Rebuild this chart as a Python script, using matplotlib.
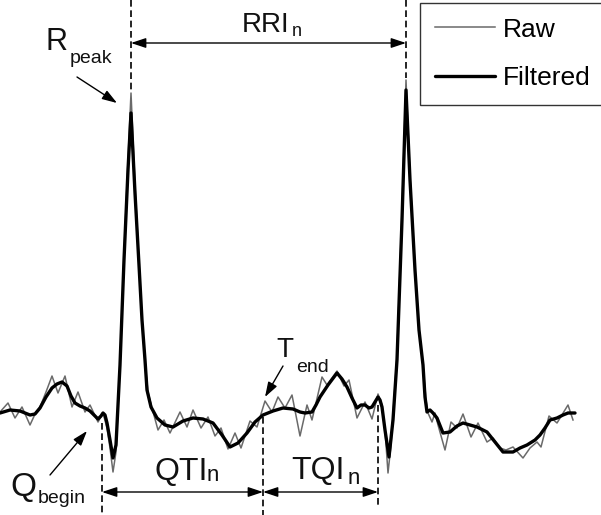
import numpy as np
import matplotlib
matplotlib.use("Agg")
import matplotlib.pyplot as plt

plt.rcParams["font.family"] = ["Liberation Sans", "DejaVu Sans"]

# ── ECG traces (sample position, level; level grows downward) ──
filt_t = [0, 10, 20, 30, 35, 40, 46, 52, 57, 62, 67, 71, 75, 80, 85, 90, 95, 98,
          101, 103, 105, 107, 110, 113, 116, 120, 124, 128, 131, 135, 139, 142,
          145, 147, 151, 157, 165, 173, 183, 193, 203, 213, 222, 230, 238, 247,
          255, 263, 273, 283, 293, 300, 305, 312, 316, 320, 328, 337, 342, 347,
          352, 357, 361, 365, 369, 372, 375, 378, 380, 382, 385, 389, 393, 397,
          402, 406, 410, 415, 419, 423, 425, 427, 430, 433, 437, 443, 450, 457,
          463, 470, 477, 487, 495, 503, 513, 520, 527, 535, 540, 545, 550, 557,
          563, 568, 575]
filt_v = [413, 410, 411, 415, 414, 408, 397, 388, 384, 382, 386, 396, 403, 406,
          408, 411, 416, 419, 416, 413, 415, 423, 440, 458, 445, 365, 260, 170,
          113, 193, 265, 320, 360, 390, 407, 418, 425, 427, 421, 418, 419, 423,
          435, 447, 443, 433, 422, 415, 411, 408, 409, 412, 413, 412, 405, 397,
          385, 373, 379, 387, 398, 408, 405, 405, 408, 407, 402, 397, 400, 407,
          430, 457, 420, 360, 220, 90, 180, 270, 330, 365, 397, 412, 410, 413,
          418, 433, 432, 426, 423, 425, 427, 432, 442, 452, 452, 448, 445, 440,
          435, 428, 420, 418, 415, 413, 413]

raw_t = [0, 8, 15, 22, 30, 36, 40, 46, 52, 58, 65, 72, 78, 85, 90, 98, 103, 107,
         110, 113, 116, 120, 124, 128, 131, 135, 139, 142, 145, 148, 152, 158,
         164, 170, 180, 187, 193, 201, 208, 215, 221, 228, 235, 241, 250, 257,
         265, 272, 278, 285, 292, 300, 307, 312, 322, 327, 337, 344, 349, 357,
         365, 372, 378, 382, 385, 388, 391, 397, 402, 406, 410, 415, 419, 423,
         426, 428, 432, 435, 438, 445, 451, 457, 463, 471, 478, 487, 493, 500,
         506, 513, 523, 530, 537, 541, 549, 557, 568, 573]
raw_v = [412, 403, 418, 407, 425, 412, 407, 392, 376, 393, 376, 407, 392, 412,
         405, 422, 413, 428, 448, 472, 452, 365, 255, 160, 93, 185, 262, 320,
         362, 392, 408, 430, 420, 433, 412, 427, 410, 428, 417, 436, 428, 449,
         433, 448, 421, 427, 401, 412, 397, 408, 395, 436, 405, 420, 377, 385,
         371, 386, 380, 418, 402, 419, 394, 405, 430, 473, 445, 355, 210, 80,
         175, 268, 330, 365, 400, 413, 422, 413, 425, 450, 422, 428, 414, 437,
         423, 442, 438, 448, 450, 447, 458, 448, 442, 447, 416, 423, 405, 420]

# ── fiducial points ──
r_peaks = [131, 406]
q_begin = 102
t_end = 263
q_next = 378

fig = plt.figure(figsize=(6.01, 5.15), dpi=100, facecolor="white")
ax = fig.add_axes([0, 0, 1, 1])
ax.set_xlim(0, 601)
ax.set_ylim(515, 0)
ax.axis("off")

ax.plot(raw_t, raw_v, color="#6a6a6a", lw=1.1, solid_joinstyle="round",
        label="Raw", zorder=2)
ax.plot(filt_t, filt_v, color="black", lw=2.4, solid_joinstyle="round",
        solid_capstyle="round", label="Filtered", zorder=3)

dash = dict(color="black", lw=1.2, linestyle=(0, (4, 2.2)), zorder=1)
ax.plot([r_peaks[0], r_peaks[0]], [0, 90], **dash)
ax.plot([r_peaks[1], r_peaks[1]], [0, 78], **dash)
ax.plot([q_begin, q_begin], [423, 515], **dash)
ax.plot([t_end, t_end], [417, 515], **dash)
ax.plot([q_next, q_next], [405, 507], **dash)

double = dict(arrowstyle="<|-|>,head_length=0.9,head_width=0.3", color="black",
              lw=1.0, shrinkA=0, shrinkB=0)
single = dict(arrowstyle="-|>,head_length=0.9,head_width=0.3", color="black",
              lw=1.0, shrinkA=0, shrinkB=0)

ax.annotate("", xy=(r_peaks[1], 43), xytext=(r_peaks[0], 43), arrowprops=double)
ax.annotate("", xy=(t_end, 492), xytext=(q_begin, 492), arrowprops=double)
ax.annotate("", xy=(q_next, 492), xytext=(t_end, 492), arrowprops=double)

ax.annotate("", xy=(117, 103), xytext=(77, 77), arrowprops=single)
ax.annotate("", xy=(87, 431), xytext=(50, 475), arrowprops=single)
ax.annotate("", xy=(265, 397), xytext=(283, 366), arrowprops=single)

txt = dict(color="#111111", va="baseline", ha="left")
ax.text(242, 32, "RRI", fontsize=20, **txt)
ax.text(292, 36, "n", fontsize=13, **txt)

ax.text(46, 50, "R", fontsize=22, **txt)
ax.text(70, 63, "peak", fontsize=14, **txt)

ax.text(10, 496, "Q", fontsize=24, **txt)
ax.text(38, 503, "begin", fontsize=14, **txt)

ax.text(276, 357, "T", fontsize=20, **txt)
ax.text(296, 372, "end", fontsize=14, **txt)

ax.text(154, 480, "QTI", fontsize=23, **txt)
ax.text(207, 481, "n", fontsize=16, **txt)

ax.text(291, 479, "TQI", fontsize=23, **txt)
ax.text(348, 484, "n", fontsize=16, **txt)

leg = ax.legend(loc="upper left", bbox_to_anchor=(420 / 601, 1 - 3 / 515),
                borderaxespad=0, fontsize=19, frameon=True, fancybox=False,
                framealpha=1, edgecolor="#333333", handlelength=2.3,
                handletextpad=0.3, borderpad=0.55, labelspacing=0.94)
leg.get_frame().set_linewidth(1.0)

fig.savefig("out.png", dpi=100, facecolor="white")
